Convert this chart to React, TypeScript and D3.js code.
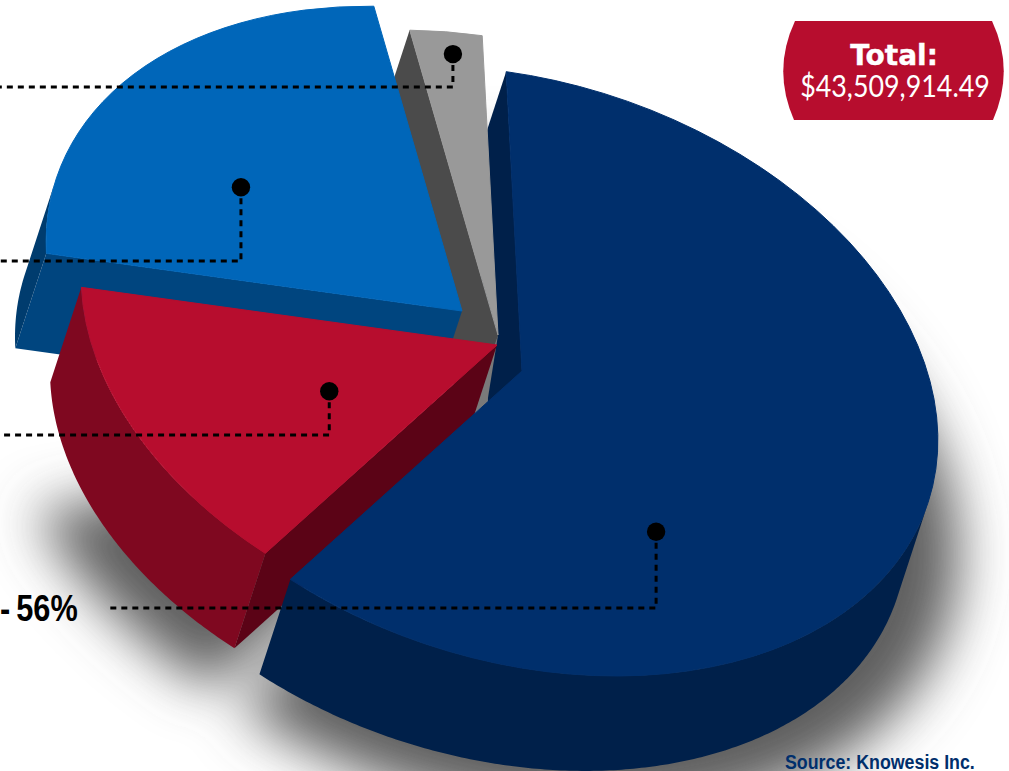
import React from 'react';
import * as d3 from 'd3';

// share of the circle each wedge really takes up in the drawing (the artwork labels navy 56%)
const sliceNames = ['navy', 'red', 'blue', 'gray'];
const sliceShares = [60, 15, 22.2, 2.8];
const sliceCenters = [[522, 371], [497, 345], [462, 311], [498, 335]];
const topColors = ['#002f6c', '#b70d2e', '#0066b9', '#999999'];
const outerColors = ['#00204a', '#7f0820', '#003c6e', '#4b4b4b'];
const radialColors = ['#00204a', '#5b0316', '#00457f', '#4b4b4b'];
const dotRadii = [0.567, 0.474, 0.607, 0.927];
const dotFractions = [0.683, 0.453, 0.389, 0.55];
const leaderYs = [608, 435, 261, 87];
const leaderEnds = [110, 0, 0, 0];

const width = 1009;
const height = 771;
const depth = [-31, 95];
const startAngle = -0.038;
// ellipse axes of the tilted pie
const ax = 416;
const skew = 69;
const ay = 297;

const project = (c: number[], a: number, r = 1): [number, number] => [
  c[0] + ax * r * Math.sin(a),
  c[1] + skew * r * Math.sin(a) - ay * r * Math.cos(a),
];
const shift = (p: number[]): [number, number] => [p[0] + depth[0], p[1] + depth[1]];

const polygon = d3.line();
const arc = d3.arc<d3.PieArcDatum<number>>().innerRadius(0).outerRadius(1);
const slices = d3.pie<number>().sort(null).startAngle(startAngle).endAngle(startAngle + Math.PI * 2)(sliceShares);

const matrix = (c: number[], r = 1) => `matrix(${ax * r},${skew * r},0,${ay * r},${c[0]},${c[1]})`;

// outer wall: only the part of the rim that faces the viewer
const outerWall = (i: number) => {
  const s = slices[i];
  const angles = d3.range(s.startAngle, s.endAngle, 0.01).concat(s.endAngle).filter(a => {
    const tx = ax * Math.cos(a);
    const ty = skew * Math.cos(a) + ay * Math.sin(a);
    return depth[0] * ty - depth[1] * tx > 0;
  });
  if (!angles.length) return null;
  const top = angles.map(a => project(sliceCenters[i], a));
  return polygon([...top, ...top.map(shift).reverse()]) + 'Z';
};

const radialWall = (i: number) => {
  const c = sliceCenters[i];
  const p = project(c, slices[i].startAngle);
  return polygon([c as [number, number], p, shift(p), shift(c)]) + 'Z';
};

const Slice = ({ i, walls = true }: { i: number; walls?: boolean }) => (
  <g>
    {walls && <path d={radialWall(i)} fill={radialColors[i]} />}
    {walls && outerWall(i) && <path d={outerWall(i)!} fill={outerColors[i]} />}
    {/* thin stroke hides the light seam between face and wall */}
    <path
      d={arc(slices[i])!}
      transform={matrix(sliceCenters[i])}
      fill={topColors[i]}
      stroke={topColors[i]}
      strokeWidth={1}
      vectorEffect="non-scaling-stroke"
    />
  </g>
);

export default function App() {
  const navy = sliceNames.indexOf('navy');
  const red = sliceNames.indexOf('red');
  const navyCenter = sliceCenters[navy];
  const navyEnd = project(navyCenter, slices[navy].endAngle);
  const gap = sliceCenters[sliceNames.indexOf('gray')];
  const t = 0.15;
  const gapEdge: [number, number] = [navyCenter[0] + (navyEnd[0] - navyCenter[0]) * t, navyCenter[1] + (navyEnd[1] - navyCenter[1]) * t];
  return (
    <svg width={width} height={height} style={{ position: 'fixed', left: 0, top: 0, background: '#fff' }}>
      <defs>
        <filter id="soft" x="-30%" y="-30%" width="160%" height="160%">
          <feGaussianBlur stdDeviation="27" />
        </filter>
      </defs>

      {/* drop shadow */}
      <g filter="url(#soft)">
        <path
          d={arc(slices[navy])!}
          transform={matrix([navyCenter[0] + depth[0] + 6, navyCenter[1] + depth[1] + 12], 1.11)}
          fill="#5f5f5f"
        />
        <path
          d={arc({ ...slices[red], endAngle: 4.3 })!}
          transform={matrix([sliceCenters[red][0] + depth[0] + 15, sliceCenters[red][1] + depth[1] + 5], 1.17)}
          fill="#5f5f5f"
        />
      </g>

      <path d={radialWall(navy)} fill={radialColors[navy]} />
      <path d={polygon([gap as [number, number], gapEdge, [gapEdge[0] - 40, gapEdge[1] + 35]])!} fill="#7a7a7a" />
      <Slice i={3} />
      <Slice i={2} />
      <Slice i={1} />
      <path d={outerWall(navy)!} fill={outerColors[navy]} />
      <Slice i={navy} walls={false} />

      {/* leaders */}
      {slices.map((s, i) => {
        const a = s.startAngle + (s.endAngle - s.startAngle) * dotFractions[i];
        const [x, y] = project(sliceCenters[i], a, dotRadii[i]);
        return (
          <g key={sliceNames[i]}>
            <path
              d={polygon([[x, y], [x, leaderYs[i]], [leaderEnds[i], leaderYs[i]]])!}
              fill="none"
              stroke="#000"
              strokeWidth={3}
              strokeDasharray="6,5"
            />
            <circle cx={x} cy={y} r={9.2} fill="#000" />
          </g>
        );
      })}

      {/* total badge */}
      <path d="M795,21 L992,21 Q1015,70 993,120 L794,120 Q772,70 795,21 Z" fill="#b70d2e" />
      <text x={894} y={65} textAnchor="middle" fill="#fff" stroke="#fff" strokeWidth={0.4} fontFamily="'DejaVu Sans'" fontWeight={700} fontSize={28}>
        Total:
      </text>
      <text transform="translate(895,97) scale(0.895,1)" textAnchor="middle" fill="#fff" fontFamily="Lato" fontSize={30}>
        $43,509,914.49
      </text>

      <text transform="translate(0,621) scale(0.83,1)" fontFamily="'Liberation Sans'" fontWeight={700} fontSize={37} fill="#000">
        -<tspan dx={-3}> 56%</tspan>
      </text>
      <text transform="translate(785,769) scale(0.89,1)" fontFamily="'Liberation Sans'" fontWeight={700} fontSize={20} fill="#002f6c">
        Source: Knowesis Inc.
      </text>
    </svg>
  );
}
